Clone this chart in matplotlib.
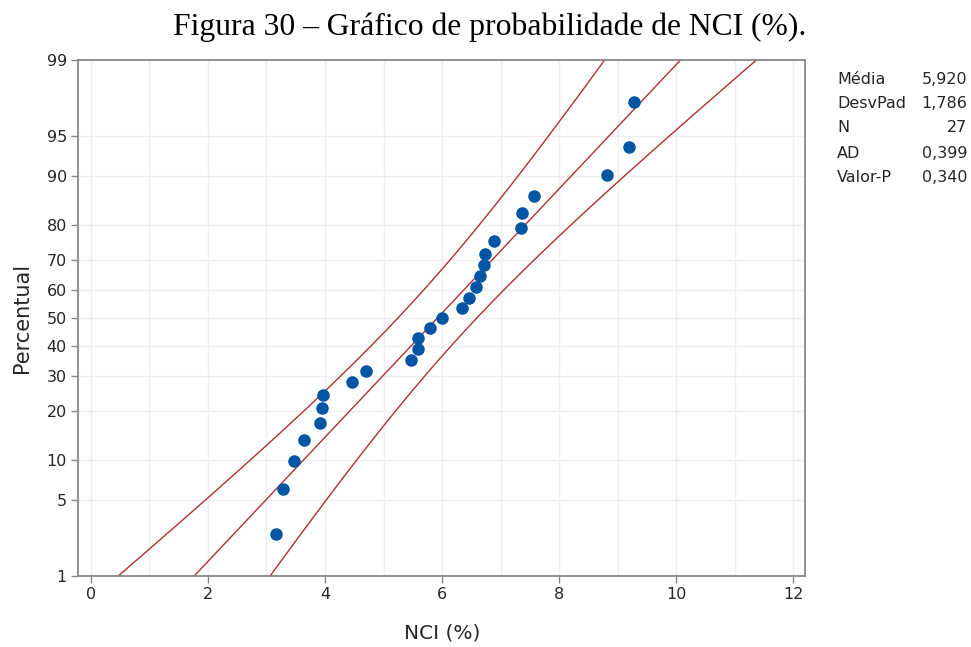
import numpy as np
import matplotlib.pyplot as plt
from statistics import NormalDist

# NCI (%) sample values, sorted
nci = [3.16, 3.28, 3.47, 3.64, 3.91, 3.95, 3.97, 4.46, 4.70,
       5.47, 5.59, 5.59, 5.79, 6.00, 6.34, 6.46, 6.58, 6.65,
       6.72, 6.74, 6.89, 7.35, 7.37, 7.57, 8.82, 9.20, 9.28]

media = 5.920
desvpad = 1.786
n_obs = 27
stat_labels = ['Média', 'DesvPad', 'N', 'AD', 'Valor-P']
stat_values = ['5,920', '1,786', '27', '0,399', '0,340']

y_ticks = [1, 5, 10, 20, 30, 40, 50, 60, 70, 80, 90, 95, 99]
x_ticks = [0, 2, 4, 6, 8, 10, 12]

nd = NormalDist()

# posições de Minitab: (i - 0.3) / (n + 0.4)
ranks = np.arange(1, n_obs + 1)
p_plot = (ranks - 0.3) / (n_obs + 0.4)
z_pts = [nd.inv_cdf(p) for p in p_plot]

# linha ajustada e intervalo de confiança de 95%
z_line = np.linspace(nd.inv_cdf(0.0005), nd.inv_cdf(0.9995), 300)
x_fit = media + desvpad * z_line
se = desvpad * np.sqrt(1 / n_obs + z_line ** 2 / (2 * n_obs))
x_lo = x_fit - 1.96 * se
x_hi = x_fit + 1.96 * se

fig = plt.figure(figsize=(9.71, 6.47), dpi=100)
ax = fig.add_axes([0.0803, 0.1097, 0.829 - 0.0803, 0.9073 - 0.1097])

red = '#b03030'
ax.plot(x_fit, z_line, color=red, lw=1)
ax.plot(x_lo, z_line, color=red, lw=1)
ax.plot(x_hi, z_line, color=red, lw=1)
ax.plot(nci, z_pts, 'o', color='#0055a5', ms=8, zorder=5)

ax.set_xlim(-0.22, 12.2)
ax.set_ylim(nd.inv_cdf(0.01), nd.inv_cdf(0.99))
ax.set_xticks(x_ticks)
ax.set_xticks(np.arange(0, 13, 1), minor=True)
ax.set_yticks([nd.inv_cdf(v / 100) for v in y_ticks])
ax.set_yticklabels([str(v) for v in y_ticks])
ax.grid(True, which='both', color='#efefef', lw=1)
ax.tick_params(which='minor', length=0)
ax.set_axisbelow(True)

font = 'DejaVu Sans'
txt = '#262626'
for lab in ax.get_xticklabels() + ax.get_yticklabels():
    lab.set_fontfamily(font)
    lab.set_fontsize(11.5)
    lab.set_color(txt)
ax.tick_params(which='major', color='#888888', length=5, width=1, pad=3)
for s in ax.spines.values():
    s.set_color('#888888')
    s.set_linewidth(1.3)

ax.set_xlabel('NCI (%)', fontfamily=font, fontsize=14.5, color=txt)
ax.set_ylabel('Percentual', fontfamily=font, fontsize=15, color=txt)
ax.xaxis.set_label_coords((442 - 78) / (805 - 78), -(623 - 576) / (576 - 60))
ax.yaxis.set_label_coords(-(78 - 32) / (805 - 78), 0.5)

fig.text(0.5 + 4 / 971, 1 - 27 / 647, 'Figura 30 – Gráfico de probabilidade de NCI (%).',
         ha='center', va='center', fontfamily='Liberation Serif', fontsize=22.8)

# tabela de estatísticas
row_y = [80, 103, 128, 153, 177]
for lab, val, yp in zip(stat_labels, stat_values, row_y):
    yy = 1 - yp / 647
    fig.text(837 / 971, yy, lab, ha='left', va='center', fontfamily=font, fontsize=11.5, color=txt)
    fig.text(967 / 971, yy, val, ha='right', va='center', fontfamily=font, fontsize=11.5, color=txt)

fig.savefig('out.png', dpi=100)
